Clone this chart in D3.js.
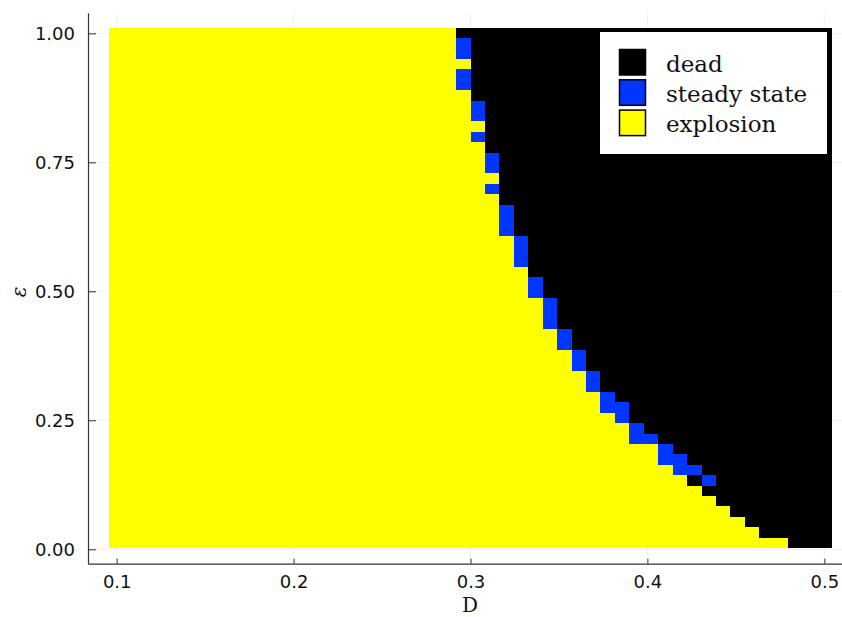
<!DOCTYPE html>
<html>
<head>
<meta charset="utf-8">
<script src="https://cdn.jsdelivr.net/npm/d3@7"></script>
<style>
  body { margin: 0; background: #fff; }
  svg { display: block; }
</style>
</head>
<body>
<div id="chart"></div>
<script>
// Phase diagram of the model: D (x) against epsilon (y)

const dTicks = [0.1, 0.2, 0.3, 0.4, 0.5];
const epsTicks = [0, 0.25, 0.5, 0.75, 1];

// 50 x 50 parameter grid
const dValues = d3.range(50).map(i => 0.1 + i * 0.4 / 49);
const epsValues = d3.range(50).map(i => 1.0008 - i * 0.02017); // top row first

// number of "explosion" cells at the start of each row (top row first)
const explosionCount = [
    24, 24, 24, 25, 24, 24, 25, 25, 25, 26,
    25, 26, 26, 26, 27, 26, 27, 27, 27, 27,
    28, 28, 28, 29, 29, 29, 30, 30, 30, 31,
    31, 32, 32, 33, 33, 34, 34, 35, 36, 36,
    38, 38, 39, 40, 41, 42, 43, 44, 45, 47
];

// columns that end in a steady state, per row (top row first)
const steadyCols = [
    [], [24], [24], [], [24], [24], [], [25], [25], [],
    [25], [], [26], [26], [], [26], [], [27], [27], [27],
    [28], [28], [28], [], [29], [29], [30], [30], [30], [31],
    [31], [32], [32], [33], [33], [34], [34, 35], [35], [36], [36, 37],
    [38], [38, 39], [39, 40], [41], [], [], [], [], [], []
];

const states = ["dead", "steady state", "explosion"];
const stateColors = ["#000000", "#0036ff", "#ffff00"];

const width = 842;
const height = 617;

const svg = d3.select("#chart")
    .append("svg")
    .attr("width", width)
    .attr("height", height);

// plot area spans x 88..842, y 12.7..563.7
const x = d3.scaleLinear().domain([0.08378, 0.51]).range([88, 842]);
const y = d3.scaleLinear().domain([-0.028, 1.04]).range([563.7, 12.7]);
const color = d3.scaleOrdinal().domain(states).range(stateColors);

// faint grid
const grid = svg.append("g").attr("stroke", "#000").attr("stroke-opacity", 0.1).attr("stroke-width", 0.6);
dTicks.forEach(d => {
    grid.append("line").attr("x1", x(d)).attr("x2", x(d)).attr("y1", y.range()[1]).attr("y2", y.range()[0]);
});
epsTicks.forEach(e => {
    grid.append("line").attr("x1", x.range()[0]).attr("x2", x.range()[1]).attr("y1", y(e)).attr("y2", y(e));
});

// heatmap cells
const dStep = dValues[1] - dValues[0];
const eStep = epsValues[0] - epsValues[1];
const cells = [];
epsValues.forEach((e, i) => {
    dValues.forEach((d, j) => {
        let state = "dead";
        if (j < explosionCount[i]) state = "explosion";
        else if (steadyCols[i].includes(j)) state = "steady state";
        cells.push({ d, e, state });
    });
});

svg.append("g")
    .attr("shape-rendering", "crispEdges")
    .selectAll("rect")
    .data(cells)
    .join("rect")
    .attr("x", c => x(c.d - dStep / 2))
    .attr("y", c => y(c.e + eStep / 2))
    .attr("width", c => x(c.d + dStep / 2) - x(c.d - dStep / 2) + 0.3)
    .attr("height", c => y(c.e - eStep / 2) - y(c.e + eStep / 2) + 0.3)
    .attr("fill", c => color(c.state));

// axes
const xAxis = d3.axisBottom(x)
    .tickValues(dTicks)
    .tickFormat(d3.format(".1f"))
    .tickSizeInner(-5)
    .tickSizeOuter(0)
    .tickPadding(12);

const yAxis = d3.axisLeft(y)
    .tickValues(epsTicks)
    .tickFormat(d3.format(".2f"))
    .tickSizeInner(-8)
    .tickSizeOuter(0)
    .tickPadding(13);

const gx = svg.append("g")
    .attr("transform", `translate(0, ${y.range()[0]})`)
    .call(xAxis);

const gy = svg.append("g")
    .attr("transform", `translate(${x.range()[0]}, 0)`)
    .call(yAxis);

[gx, gy].forEach(g => {
    g.select(".domain").attr("stroke", "#333").attr("stroke-width", 1.2);
    g.selectAll(".tick line").attr("stroke", "#333").attr("stroke-width", 1);
    g.selectAll(".tick text")
        .attr("fill", "#111")
        .style("font-family", "'DejaVu Sans', sans-serif")
        .style("font-size", "18px");
});

// axis titles
svg.append("text")
    .attr("x", 470)
    .attr("y", 612)
    .attr("text-anchor", "middle")
    .style("font-family", "'DejaVu Serif', serif")
    .style("font-size", "20px")
    .attr("fill", "#111")
    .text("D");

svg.append("text")
    .attr("transform", "translate(26, 292) rotate(-90)")
    .attr("text-anchor", "middle")
    .style("font-family", "'DejaVu Serif', serif")
    .style("font-style", "italic")
    .style("font-size", "20px")
    .attr("fill", "#111")
    .text("ε");

// legend
const legend = svg.append("g").attr("transform", "translate(599.5, 31.5)");

legend.append("rect")
    .attr("width", 228)
    .attr("height", 123)
    .attr("fill", "#fff")
    .attr("stroke", "#000")
    .attr("stroke-width", 1);

states.forEach((s, i) => {
    const row = legend.append("g").attr("transform", `translate(0, ${i * 30.3})`);
    row.append("rect")
        .attr("x", 20)
        .attr("y", 18)
        .attr("width", 26)
        .attr("height", 25.5)
        .attr("fill", color(s))
        .attr("stroke", "#000")
        .attr("stroke-width", 1.5);
    row.append("text")
        .attr("x", 66.5)
        .attr("y", 40)
        .style("font-family", "'DejaVu Serif', serif")
        .style("font-size", "23px")
        .attr("fill", "#111")
        .text(s);
});
</script>
</body>
</html>
